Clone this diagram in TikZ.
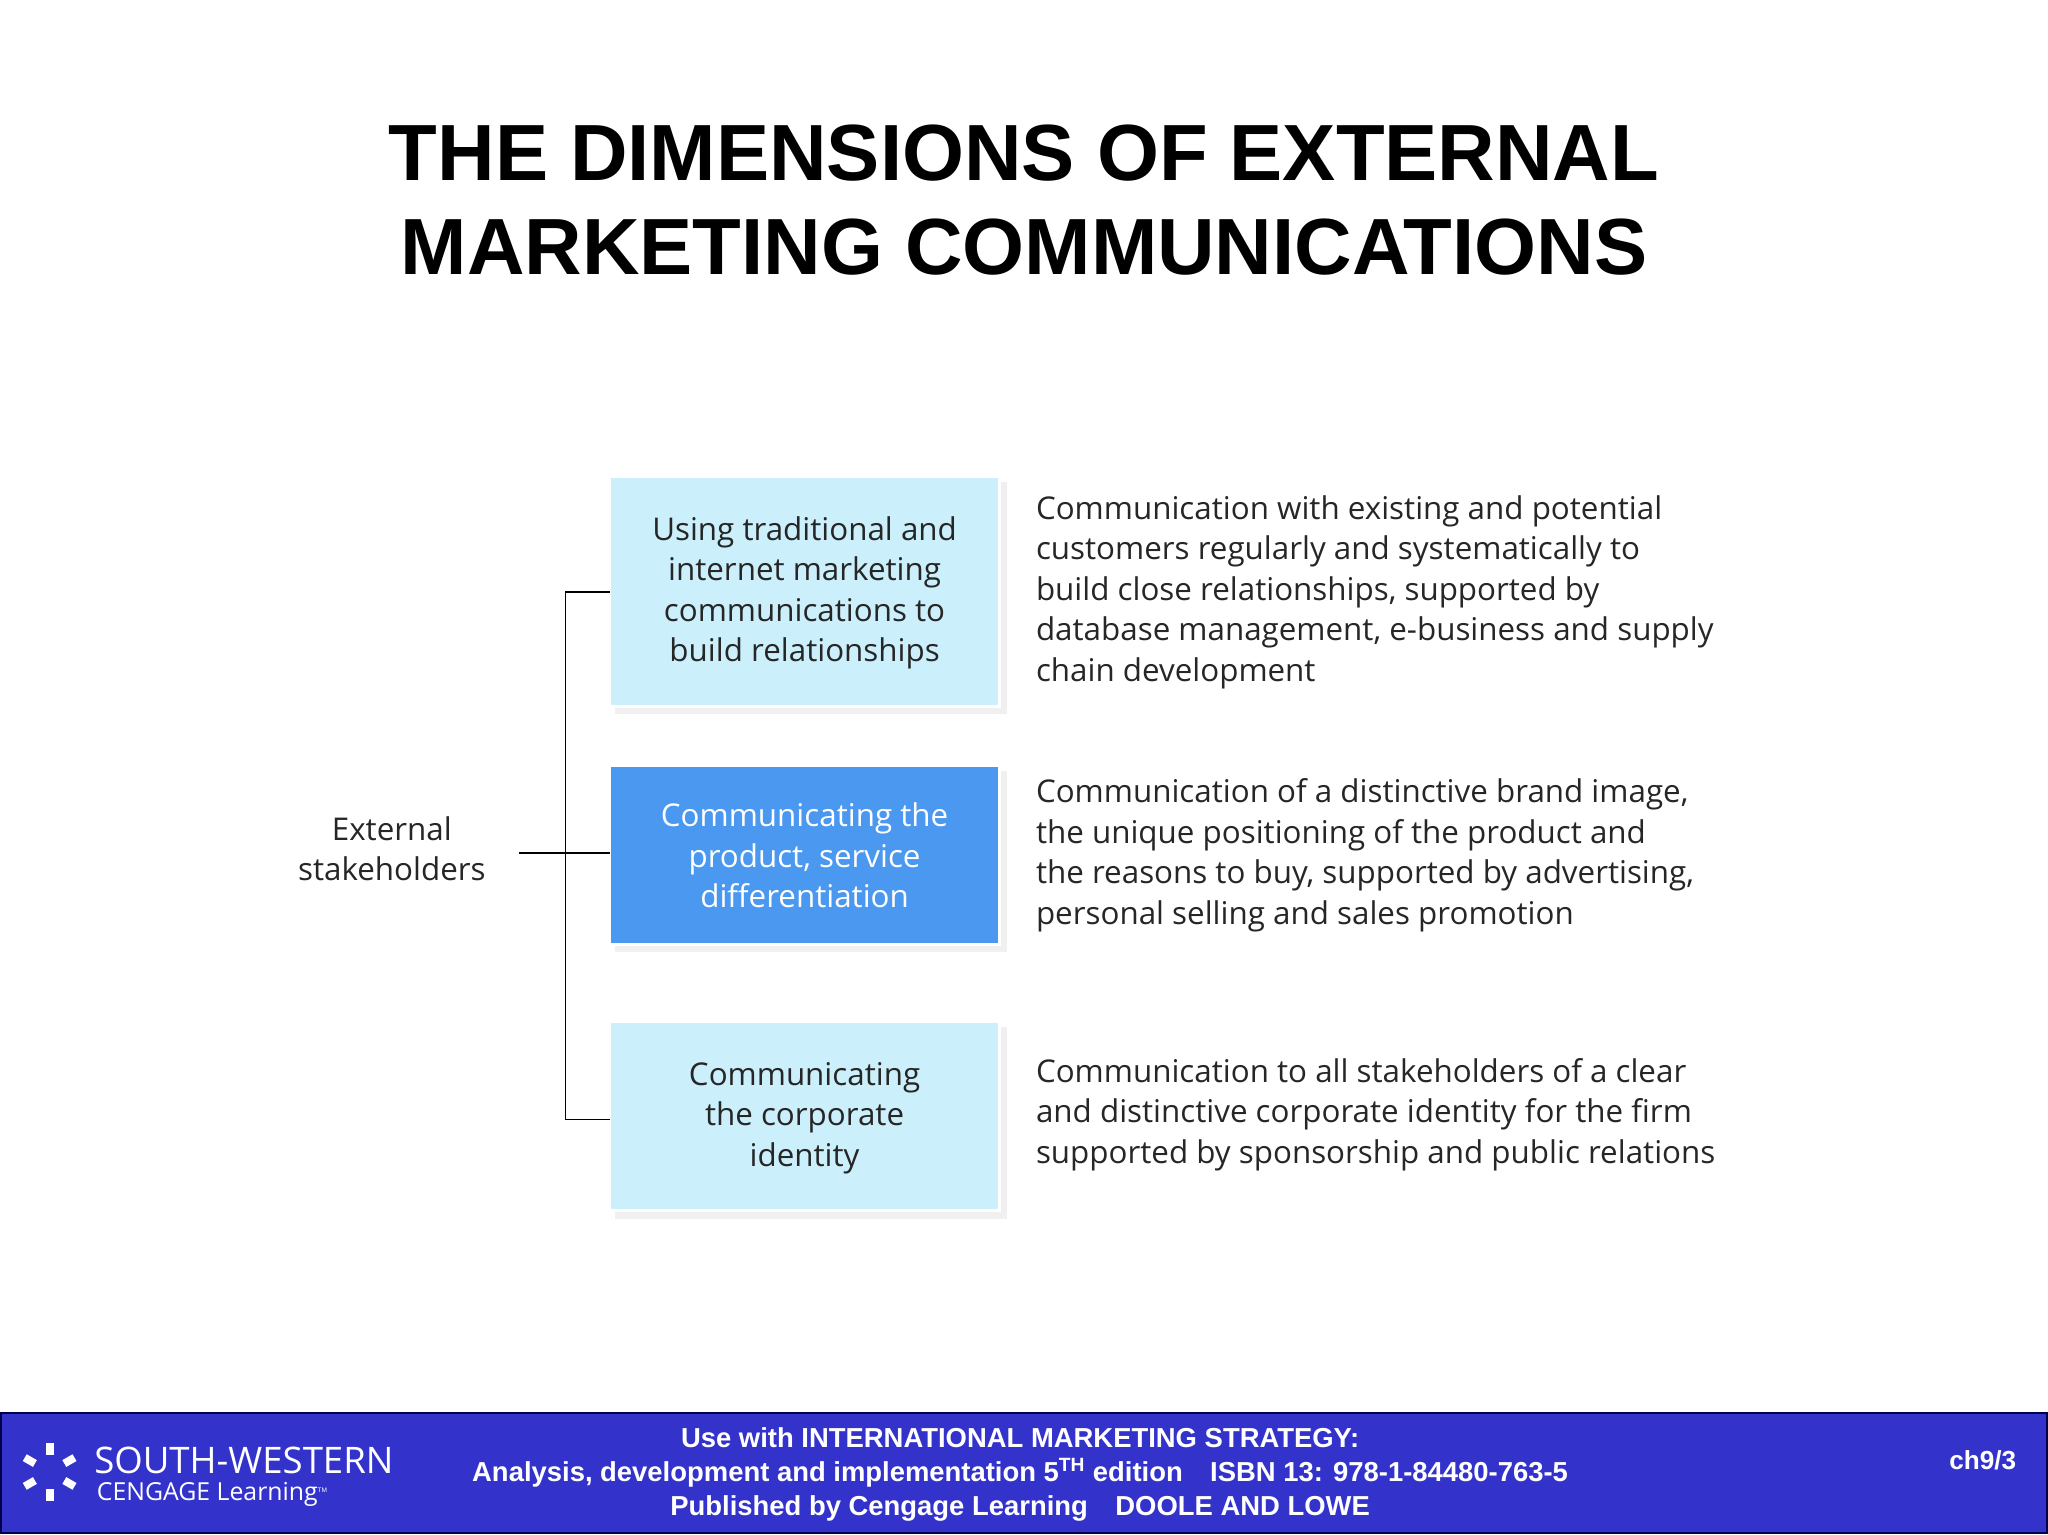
\documentclass[tikz,border=0pt]{standalone}
\usepackage{fontspec}
\setmainfont{Liberation Sans}
\newfontfamily\boxfont{Open Sans}
\begin{document}
\begin{tikzpicture}[x=1pt,y=-1pt,
  lbox/.style={draw=white,line width=2pt,fill=cyan!20!white,inner sep=0pt},
  dbox/.style={draw=white,line width=2pt,fill=blue!45!cyan!70!white,inner sep=0pt},
  btxt/.style={font=\boxfont\fontsize{24}{31}\selectfont,align=center,text=black!85},
  rtxt/.style={font=\boxfont\fontsize{24}{31}\selectfont,align=left,anchor=north west,text=black!85,inner sep=0pt},
  conn/.style={line width=1.3pt,black}]
\useasboundingbox (0,0) rectangle (1568,1175);
\fill[white] (0,0) rectangle (1568,1175);
\node[font=\bfseries\fontsize{61}{72}\selectfont,align=center] (title) at (784,153) {THE DIMENSIONS OF EXTERNAL\\MARKETING COMMUNICATIONS};
% shadows
\fill[black!6] (471,369) rectangle (771,547);
\fill[black!6] (471,590) rectangle (771,729);
\fill[black!6] (471,786) rectangle (771,933);
\draw[lbox] (467,365) rectangle (765,541);
\draw[dbox,fill={rgb,255:red,74;green,152;blue,240}] (467,586) rectangle (765,723);
\draw[lbox] (467,782) rectangle (765,927);
\node[btxt] (b1) at (616,454) {Using traditional and\\internet marketing\\communications to\\build relationships};
\node[btxt,text=white] (b2) at (616,655) {Communicating the\\product, service\\differentiation};
\node[btxt] (b3) at (616,856) {Communicating\\the corporate\\identity};
\node[btxt] (ext) at (300,650) {External\\stakeholders};
\coordinate (j1) at (433,453);
\coordinate (j2) at (433,653);
\coordinate (j3) at (433,857);
\coordinate (e1) at (467,453);
\coordinate (e2) at (467,653);
\coordinate (e3) at (467,857);
\coordinate (es) at (397,653);
\draw[conn] (e1) -- (j1) -- (j3) -- (e3);
\draw[conn] (es) -- (e2);
\node[rtxt] (t1) at (793,379) {Communication with existing and potential\\customers regularly and systematically to\\build close relationships, supported by\\database management, e-business and supply\\chain development};
\node[rtxt] (t2) at (793,596) {Communication of a distinctive brand image,\\the unique positioning of the product and\\the reasons to buy, supported by advertising,\\personal selling and sales promotion};
\node[rtxt] (t3) at (793,810) {Communication to all stakeholders of a clear\\and distinctive corporate identity for the firm\\supported by sponsorship and public relations};
% footer
\draw[fill={rgb,255:red,51;green,51;blue,204},draw=black!70!blue,line width=1.5pt] (1,1082) rectangle (1567,1174);
\node[text=white,font=\bfseries\fontsize{21}{26}\selectfont,align=center] (foot) at (781,1129) {Use with INTERNATIONAL MARKETING STRATEGY:\\Analysis, development and implementation 5\textsuperscript{TH} edition\quad ISBN 13: 978-1-84480-763-5\\Published by Cengage Learning\quad DOOLE AND LOWE};
\node[text=white,font=\bfseries\fontsize{20}{22}\selectfont] (ch) at (1518,1118) {ch9/3};
\node[text=white,font=\boxfont\fontsize{28}{30}\selectfont,anchor=west,inner sep=0pt] (sw) at (72,1118) {SOUTH-WESTERN};
\node[text=white,font=\boxfont\fontsize{19}{20}\selectfont,anchor=west,inner sep=0pt] (cl) at (74,1144) {CENGAGE Learning\textsuperscript{\tiny\textrm{TM}}};
\foreach \a in {0,60,...,300}{\fill[white,rotate around={\a:(38,1127)}] (35,1105) rectangle (41,1114);}
\end{tikzpicture}
\end{document}
